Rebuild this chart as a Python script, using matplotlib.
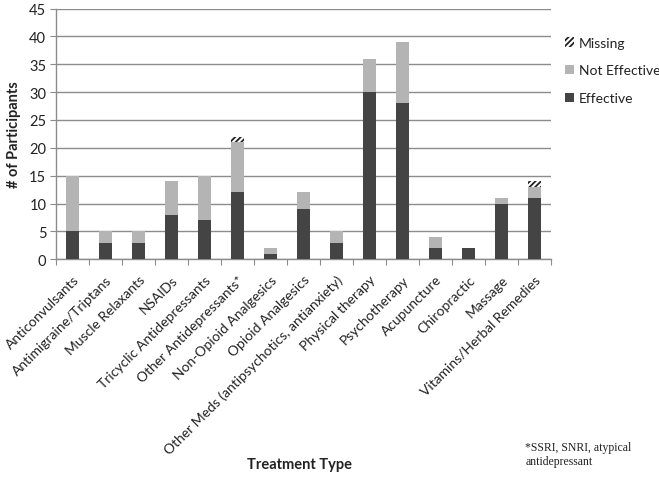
import matplotlib
matplotlib.use("Agg")
import matplotlib.pyplot as plt
import numpy as np

# ---- data ----
categories = [
    "Anticonvulsants", "Antimigraine/Triptans", "Muscle Relaxants", "NSAIDs",
    "Tricyclic Antidepressants", "Other Antidepressants*", "Non-Opioid Analgesics",
    "Opioid Analgesics", "Other Meds (antipsychotics, antianxiety)",
    "Physical therapy", "Psychotherapy", "Acupuncture", "Chiropractic",
    "Massage", "Vitamins/Herbal Remedies",
]
effective = [5, 3, 3, 8, 7, 12, 1, 9, 3, 30, 28, 2, 2, 10, 11]
not_effective = [10, 2, 2, 6, 8, 9, 1, 3, 2, 6, 11, 2, 0, 1, 2]
missing = [0, 0, 0, 0, 0, 1, 0, 0, 0, 0, 0, 0, 0, 0, 1]

DARK = "#444444"
LIGHT = "#b4b4b4"
GRID = "#8c8c8c"
TEXT = "#222222"

plt.rcParams['font.family'] = ['Lato', 'DejaVu Sans']
plt.rcParams['hatch.linewidth'] = 1.3

fig = plt.figure(figsize=(6.59, 4.81), dpi=100)
ax = fig.add_axes([0.085, 0.459, 0.751, 0.521])

x = np.arange(len(categories))
w = 0.4
eff = np.array(effective)
ne = np.array(not_effective)
ms = np.array(missing)

b1 = ax.bar(x, eff, w, color=DARK, linewidth=0, zorder=3, label="Effective")
b2 = ax.bar(x, ne, w, bottom=eff, color=LIGHT, linewidth=0, zorder=3,
            label="Not Effective")
b3 = ax.bar(x, ms, w, bottom=eff + ne, color="white", edgecolor="#222222",
            hatch="//////", linewidth=0, zorder=3, label="Missing")

ax.set_xlim(-0.5, len(categories) - 0.5)
ax.set_ylim(0, 45)
ax.set_yticks(range(0, 46, 5))
ax.yaxis.grid(True, color=GRID, linewidth=1.0, zorder=0)
ax.set_axisbelow(True)

# ticks between categories, labels at centres
ax.set_xticks(np.arange(len(categories) + 1) - 0.5)
ax.set_xticklabels([])
ax.set_xticks(x, minor=True)
ax.set_xticklabels(categories, minor=True, rotation=45, ha="right",
                   rotation_mode="anchor", fontsize=10, color=TEXT)
ax.tick_params(axis="x", which="minor", length=0, pad=10)
ax.tick_params(axis="x", which="major", length=4, color=GRID)
ax.tick_params(axis="y", length=4, color=GRID, labelsize=10.5,
               labelcolor=TEXT, pad=3)

for s in ["top", "right"]:
    ax.spines[s].set_visible(False)
for s in ["left", "bottom"]:
    ax.spines[s].set_color(GRID)
    ax.spines[s].set_linewidth(1.0)

ax.set_ylabel("# of Participants", fontsize=10.5, fontweight="bold",
              color=TEXT, labelpad=6)
fig.text(0.455, 0.033, "Treatment Type", ha="center", va="center",
         fontsize=10.5, fontweight="bold", color=TEXT)

leg = fig.legend(handles=[b3, b2, b1], labels=["Missing", "Not Effective", "Effective"],
                 loc="upper left", bbox_to_anchor=(0.857, 0.922), frameon=False,
                 fontsize=10, handlelength=0.7, handleheight=0.7,
                 handletextpad=0.3, labelspacing=1.15, borderpad=0,
                 borderaxespad=0)
for t in leg.get_texts():
    t.set_color(TEXT)

fig.text(0.797, 0.054, "*SSRI, SNRI, atypical\nantidepressant",
         family=["Liberation Serif", "DejaVu Serif"], fontsize=8.5,
         color=TEXT, ha="left", va="center", linespacing=1.2)

fig.savefig("out.png", dpi=100)
